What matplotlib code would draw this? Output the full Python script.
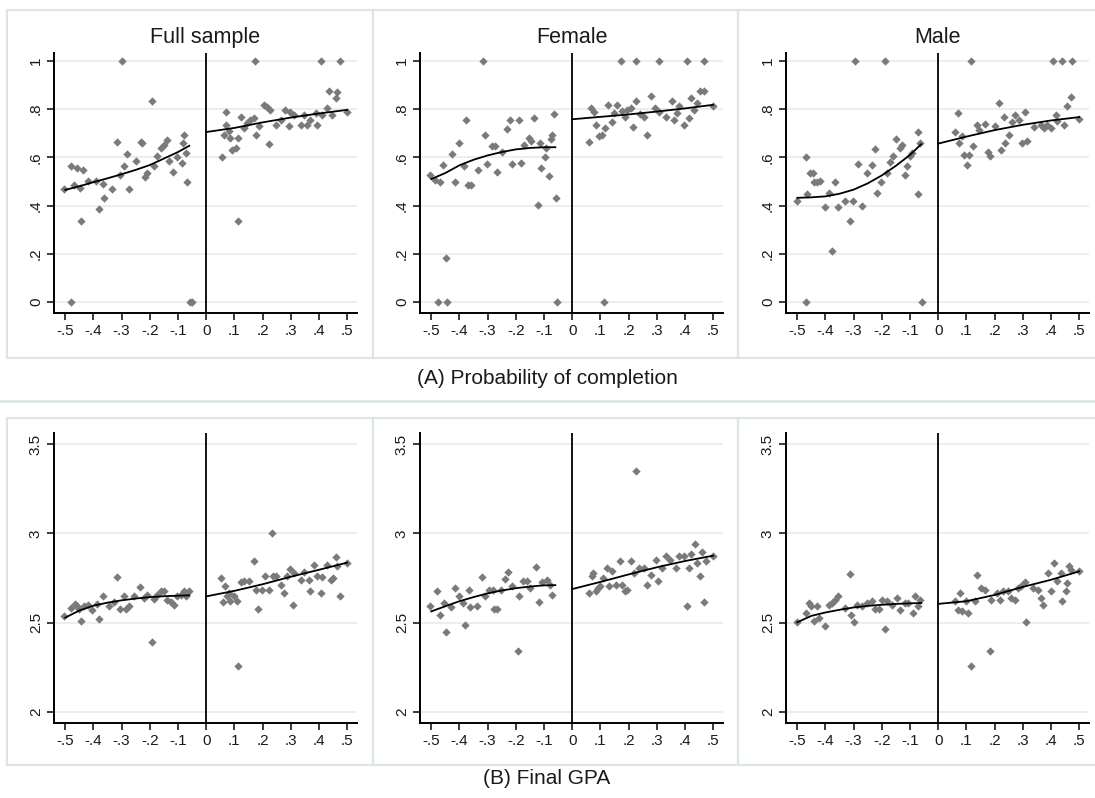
import matplotlib
matplotlib.use("Agg")
import matplotlib.pyplot as plt
from matplotlib.patches import Rectangle
from matplotlib.lines import Line2D

plt.rcParams['font.family'] = ['Liberation Sans', 'DejaVu Sans']

# ---------------- data ----------------
x_ticks = [-.5, -.4, -.3, -.2, -.1, 0, .1, .2, .3, .4, .5]
x_ticklabels = ['-.5', '-.4', '-.3', '-.2', '-.1', '0', '.1', '.2', '.3', '.4', '.5']
comp_yticks = [0, .2, .4, .6, .8, 1]
comp_yticklabels = ['0', '.2', '.4', '.6', '.8', '1']
gpa_yticks = [2, 2.5, 3, 3.5]
gpa_yticklabels = ['2', '2.5', '3', '3.5']
panel_titles = ['Full sample', 'Female', 'Male']
group_titles = ['(A) Probability of completion', '(B) Final GPA']

# (A) completion, full sample
comp_full_x = [-.505, -.478, -.46, -.437, -.468, -.446, -.443, -.479, -.42, -.392, -.379, -.365, -.361, -.333,
               -.316, -.300, -.306, -.292, -.280, -.274, -.250, -.233, -.227, -.217, -.209, -.191, -.186, -.176,
               -.162, -.150, -.138, -.132, -.117, -.103, -.085, -.079, -.082, -.073, -.067, -.058, -.050,
               .057, .069, .063, .072, .080, .086, .092, .104, .113, .112, .122, .134, .146, .157, .169, .173,
               .175, .187, .204, .216, .222, .228, .246, .264, .281, .293, .299, .311, .335, .346, .358, .370,
               .388, .394, .408, .411, .429, .435, .447, .459, .465, .473, .500]
comp_full_y = [.468, .565, .555, .548, .486, .472, .337, 0, .50, .50, .387, .489, .43, .468,
               .663, 1.0, .528, .566, .615, .468, .584, .663, .66, .517, .535, .832, .562, .606,
               .638, .652, .673, .583, .539, .601, .576, .693, .659, .62, .496, 0, 0,
               .6, .79, .693, .735, .71, .68, .631, .638, .337, .68, .767, .722, .742, .756, .762, 1.0,
               .693, .732, .818, .808, .656, .797, .735, .756, .797, .732, .79, .776, .735, .776, .735, .756,
               .783, .735, 1.0, .776, .804, .877, .776, .845, .87, 1.0, .79]

# (A) completion, female
comp_female_x = [-.505, -.487, -.47, -.457, -.475, -.445, -.447, -.427, -.403, -.415, -.377, -.383, -.368, -.358,
                 -.335, -.318, -.311, -.302, -.285, -.273, -.267, -.249, -.231, -.221, -.213, -.189, -.183, -.171,
                 -.155, -.147, -.135, -.121, -.114, -.112, -.098, -.092, -.083, -.077, -.071, -.065, -.059, -.053,
                 .061, .065, .077, .083, .095, .106, .112, .118, .126, .142, .148, .160, .174, .177, .189, .195,
                 .210, .216, .227, .228, .242, .254, .266, .278, .293, .307, .307, .331, .355, .361, .372, .378,
                 .396, .408, .414, .422, .431, .443, .455, .467, .469, .500]
comp_female_y = [.525, .507, .496, .569, 0, 0, .182, .613, .659, .496, .753, .562, .484, .484,
                 .549, 1.0, .693, .572, .649, .649, .539, .624, .716, .753, .572, .753, .576, .652,
                 .68, .666, .765, .403, .659, .556, .601, .638, .521, .676, .693, .781, .431, 0,
                 .663, .804, .79, .735, .687, .693, 0, .722, .818, .745, .783, .818, 1.0, .793, .767, .797,
                 .804, .724, .834, 1.0, .781, .767, .693, .855, .804, 1.0, .79, .767, .834, .756, .783, .815,
                 .735, 1.0, .762, .848, .797, .825, .877, .877, 1.0, .815]

# (A) completion, male
comp_male_x = [-.5, -.469, -.465, -.456, -.444, -.442, -.43, -.418, -.469, -.4, -.389, -.377, -.365, -.355,
               -.329, -.314, -.303, -.294, -.283, -.271, -.253, -.235, -.226, -.218, -.203, -.189, -.183, -.172,
               -.16, -.148, -.136, -.128, -.119, -.11, -.1, -.092, -.073, -.071, -.065, -.059,
               .061, .071, .074, .083, .091, .101, .109, .116, .122, .136, .145, .166, .175, .184, .202, .214,
               .223, .232, .238, .25, .262, .274, .286, .297, .309, .315, .339, .363, .375, .387, .399, .407,
               .417, .423, .438, .446, .458, .47, .476, .5]
comp_male_y = [.42, .601, .446, .535, .537, .496, .496, .503, 0, .394, .454, .213, .496, .394,
               .417, .337, .417, 1.0, .573, .4, .535, .569, .635, .454, .496, 1.0, .535, .58,
               .606, .675, .638, .652, .528, .566, .604, .617, .446, .707, .659, 0,
               .707, .783, .659, .687, .608, .569, .61, 1.0, .645, .735, .714, .739, .624, .604, .728, .825,
               .631, .767, .659, .693, .745, .776, .756, .659, .79, .666, .724, .735, .722, .735, .722, 1.0,
               .776, .751, 1.0, .735, .813, .852, 1.0, .758]

# (B) GPA, full sample
gpa_full_x = [-.505, -.479, -.467, -.46, -.452, -.443, -.434, -.42, -.404, -.387, -.379, -.365, -.345, -.327,
              -.316, -.306, -.292, -.286, -.274, -.257, -.235, -.221, -.209, -.191, -.186, -.174, -.162, -.15,
              -.138, -.126, -.115, -.103, -.091, -.079, -.07, -.061,
              .054, .06, .065, .074, .08, .086, .098, .11, .113, .122, .134, .151, .169, .175, .183, .199,
              .21, .222, .234, .238, .249, .267, .275, .287, .297, .309, .311, .335, .346, .364, .37, .384,
              .394, .408, .411, .427, .441, .45, .459, .465, .474, .5]
gpa_full_y = [2.539, 2.582, 2.606, 2.591, 2.576, 2.507, 2.595, 2.6, 2.569, 2.606, 2.52, 2.647, 2.591, 2.616,
              2.754, 2.576, 2.647, 2.576, 2.591, 2.647, 2.698, 2.638, 2.657, 2.39, 2.632, 2.657, 2.675, 2.675,
              2.629, 2.614, 2.6, 2.647, 2.657, 2.675, 2.647, 2.675,
              2.75, 2.614, 2.703, 2.647, 2.666, 2.619, 2.647, 2.619, 2.256, 2.726, 2.731, 2.731, 2.843, 2.681,
              2.578, 2.681, 2.759, 2.681, 3.002, 2.759, 2.759, 2.713, 2.666, 2.759, 2.802, 2.597, 2.778, 2.741,
              2.784, 2.741, 2.675, 2.825, 2.759, 2.666, 2.756, 2.825, 2.741, 2.75, 2.868, 2.815, 2.647, 2.834]

# (B) GPA, female
gpa_female_x = [-.505, -.48, -.47, -.456, -.449, -.429, -.417, -.4, -.388, -.38, -.367, -.361, -.338, -.32,
                -.308, -.296, -.282, -.276, -.267, -.252, -.237, -.229, -.212, -.194, -.188, -.176, -.162, -.148,
                -.13, -.118, -.106, -.091, -.08, -.071,
                .059, .069, .074, .083, .092, .1, .11, .124, .13, .142, .156, .171, .177, .187, .195, .209,
                .219, .228, .237, .254, .266, .281, .296, .305, .319, .333, .348, .367, .378, .396, .408, .416,
                .423, .435, .443, .455, .461, .469, .473, .5]
gpa_female_y = [2.591, 2.675, 2.545, 2.61, 2.448, 2.586, 2.694, 2.647, 2.61, 2.489, 2.685, 2.588, 2.595, 2.754,
                2.647, 2.685, 2.685, 2.578, 2.578, 2.685, 2.746, 2.784, 2.703, 2.34, 2.647, 2.731, 2.731, 2.694,
                2.81, 2.616, 2.726, 2.741, 2.713, 2.657,
                2.666, 2.759, 2.778, 2.675, 2.694, 2.703, 2.75, 2.806, 2.703, 2.787, 2.713, 2.843, 2.713, 2.675,
                2.685, 2.843, 2.778, 3.347, 2.806, 2.806, 2.713, 2.769, 2.853, 2.731, 2.806, 2.871, 2.853, 2.806,
                2.871, 2.871, 2.591, 2.806, 2.886, 2.942, 2.834, 2.763, 2.894, 2.616, 2.843, 2.871]

# (B) GPA, male
gpa_male_x = [-.5, -.468, -.459, -.45, -.441, -.43, -.422, -.4, -.388, -.376, -.365, -.355, -.331, -.314,
              -.308, -.3, -.288, -.27, -.253, -.235, -.223, -.211, -.2, -.188, -.182, -.164, -.147, -.136,
              -.118, -.106, -.091, -.083, -.073, -.065,
              .061, .071, .077, .085, .1, .106, .115, .13, .136, .151, .165, .183, .189, .207, .219, .23,
              .246, .258, .272, .284, .295, .307, .31, .337, .355, .366, .372, .388, .4, .411, .423, .435,
              .44, .452, .458, .463, .472, .5]
gpa_male_y = [2.502, 2.554, 2.61, 2.591, 2.511, 2.591, 2.526, 2.479, 2.6, 2.61, 2.629, 2.651, 2.582, 2.772,
              2.545, 2.502, 2.6, 2.591, 2.61, 2.619, 2.576, 2.576, 2.629, 2.466, 2.619, 2.6, 2.638, 2.573,
              2.61, 2.61, 2.554, 2.647, 2.591, 2.629,
              2.619, 2.569, 2.666, 2.563, 2.619, 2.554, 2.256, 2.619, 2.765, 2.694, 2.685, 2.343, 2.629, 2.666,
              2.629, 2.675, 2.675, 2.638, 2.629, 2.694, 2.703, 2.726, 2.502, 2.694, 2.685, 2.638, 2.597, 2.778,
              2.675, 2.834, 2.731, 2.778, 2.619, 2.675, 2.722, 2.815, 2.797, 2.787]

# fitted curves on each side of the cutoff
fit_left_x = [-.5, -.45, -.4, -.35, -.3, -.25, -.2, -.15, -.1, -.06]
fit_right_x = [0, .1, .2, .3, .4, .5]
comp_full_fit_l = [.465, .48, .497, .513, .53, .548, .568, .595, .622, .648]
comp_full_fit_r = [.705, .722, .745, .765, .782, .797]
comp_female_fit_l = [.51, .535, .567, .59, .608, .622, .633, .639, .642, .642]
comp_female_fit_r = [.758, .768, .778, .79, .803, .818]
comp_male_fit_l = [.432, .434, .438, .449, .466, .492, .525, .565, .61, .655]
comp_male_fit_r = [.657, .686, .713, .735, .753, .767]
gpa_full_fit_l = [2.528, 2.568, 2.595, 2.612, 2.625, 2.635, 2.643, 2.648, 2.651, 2.653]
gpa_full_fit_r = [2.647, 2.678, 2.715, 2.757, 2.796, 2.836]
gpa_female_fit_l = [2.563, 2.592, 2.62, 2.643, 2.664, 2.68, 2.693, 2.702, 2.709, 2.71]
gpa_female_fit_r = [2.688, 2.728, 2.77, 2.81, 2.845, 2.875]
gpa_male_fit_l = [2.502, 2.538, 2.557, 2.572, 2.585, 2.594, 2.6, 2.605, 2.608, 2.61]
gpa_male_fit_r = [2.605, 2.62, 2.655, 2.7, 2.74, 2.787]

# ---------------- figure ----------------
W, H = 1095, 798
fig = plt.figure(figsize=(W / 100, H / 100), dpi=100)
fig.patch.set_facecolor('white')

border_col = '#dbe5e8'
grid_col = '#e3ecee'
dot_col = '#7a7a7a'


def px_box(left, top, width, height):
    return [left / W, 1 - (top + height) / H, width / W, height / H]


# light frames of the Stata graph regions
for top, bottom in [(10, 358), (418, 765)]:
    for l, r in [(7, 373), (373, 738), (738, 1110)]:
        fig.add_artist(Rectangle((l / W, 1 - bottom / H), (r - l) / W, (bottom - top) / H,
                                 transform=fig.transFigure, fill=False, ec=border_col, lw=1.5))
fig.add_artist(Line2D([0, 1], [1 - 401 / H, 1 - 401 / H], transform=fig.transFigure,
                      color=border_col, lw=2))


def draw_panel(ax, xs, ys, fit_l, fit_r, ylim, yticks, yticklabels, title=None):
    ax.set_xlim(-.54, .535)
    ax.set_ylim(*ylim)
    for yt in yticks:
        ax.axhline(yt, color=grid_col, lw=1.2, zorder=0)
    ax.scatter(xs, ys, marker='D', s=18, color=dot_col, linewidths=0, zorder=2)
    ax.plot(fit_left_x, fit_l, color='black', lw=1.3, zorder=3)
    ax.plot(fit_right_x, fit_r, color='black', lw=1.3, zorder=3)
    ax.axvline(0, color='black', lw=1.3, zorder=3)
    for side in ['top', 'right']:
        ax.spines[side].set_visible(False)
    for side in ['left', 'bottom']:
        ax.spines[side].set_linewidth(1.4)
    ax.set_xticks(x_ticks)
    ax.set_xticklabels(x_ticklabels)
    ax.set_yticks(yticks)
    ax.set_yticklabels(yticklabels, rotation=90, va='center')
    ax.tick_params(length=5, width=1.2, labelsize=11, colors='#1a1a1a', pad=3)
    ax.patch.set_alpha(0)
    if title:
        ax.set_title(title, fontsize=15.5, pad=7, color='#1a1a1a')


lefts = [54, 420, 786]
comp_x = [comp_full_x, comp_female_x, comp_male_x]
comp_y = [comp_full_y, comp_female_y, comp_male_y]
comp_fl = [comp_full_fit_l, comp_female_fit_l, comp_male_fit_l]
comp_fr = [comp_full_fit_r, comp_female_fit_r, comp_male_fit_r]
gpa_x = [gpa_full_x, gpa_female_x, gpa_male_x]
gpa_y = [gpa_full_y, gpa_female_y, gpa_male_y]
gpa_fl = [gpa_full_fit_l, gpa_female_fit_l, gpa_male_fit_l]
gpa_fr = [gpa_full_fit_r, gpa_female_fit_r, gpa_male_fit_r]

for i in range(3):
    ax = fig.add_axes(px_box(lefts[i], 53, 303, 260))
    draw_panel(ax, comp_x[i], comp_y[i], comp_fl[i], comp_fr[i], (-.046, 1.033),
               comp_yticks, comp_yticklabels, panel_titles[i])
    ax = fig.add_axes(px_box(lefts[i], 433, 303, 290))
    draw_panel(ax, gpa_x[i], gpa_y[i], gpa_fl[i], gpa_fr[i], (1.938, 3.562),
               gpa_yticks, gpa_yticklabels)

fig.text(547 / W, 1 - 379 / H, group_titles[0], ha='center', va='center', fontsize=15, color='#1a1a1a')
fig.text(547 / W, 1 - 779 / H, group_titles[1], ha='center', va='center', fontsize=15, color='#1a1a1a')

fig.savefig('out.png', dpi=100)
